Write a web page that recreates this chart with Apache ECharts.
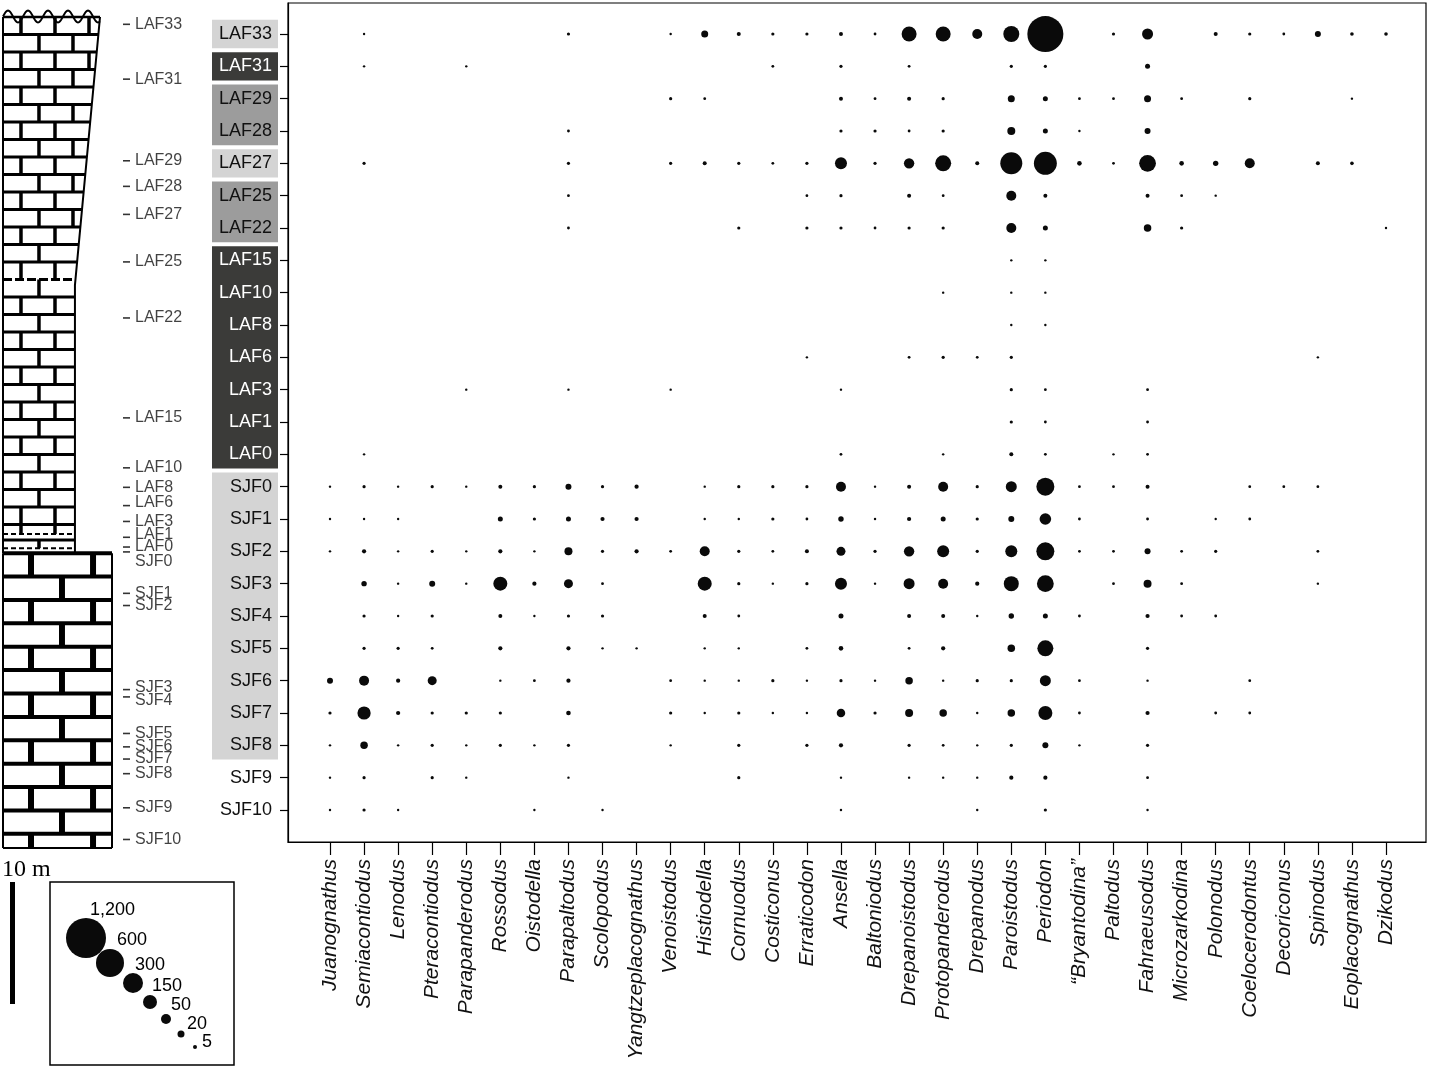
<!DOCTYPE html>
<html>
<head>
<meta charset="utf-8">
<script src="https://cdn.jsdelivr.net/npm/echarts@6/dist/echarts.min.js"></script>
<style>
  html, body { margin: 0; padding: 0; background: #fff; }
  #main { width: 1430px; height: 1068px; }
</style>
</head>
<body>
<div id="main"></div>
<script>
// conodont genera (x) and samples (y, top to bottom)
var genera = ['Juanognathus', 'Semiacontiodus', 'Lenodus', 'Pteracontiodus', 'Parapanderodus',
  'Rossodus', 'Oistodella', 'Parapaltodus', 'Scolopodus', 'Yangtzeplacognathus', 'Venoistodus',
  'Histiodella', 'Cornuodus', 'Costiconus', 'Erraticodon', 'Ansella', 'Baltoniodus',
  'Drepanoistodus', 'Protopanderodus', 'Drepanodus', 'Paroistodus', 'Periodon', '\u201cBryantodina\u201d',
  'Paltodus', 'Fahraeusodus', 'Microzarkodina', 'Polonodus', 'Coelocerodontus', 'Decoriconus',
  'Spinodus', 'Eoplacognathus', 'Dzikodus'];

var samples = ['LAF33', 'LAF31', 'LAF29', 'LAF28', 'LAF27', 'LAF25', 'LAF22', 'LAF15', 'LAF10',
  'LAF8', 'LAF6', 'LAF3', 'LAF1', 'LAF0', 'SJF0', 'SJF1', 'SJF2', 'SJF3', 'SJF4', 'SJF5', 'SJF6',
  'SJF7', 'SJF8', 'SJF9', 'SJF10'];

// height of each sample in the section (m)
var sampleHeights = [67.6, 63.1, 56.4, 54.3, 52.0, 48.1, 43.5, 35.3, 31.2, 29.6, 28.1, 26.8, 25.5,
  24.7, 24.3, 20.9, 19.9, 13.0, 12.4, 9.4, 8.3, 7.3, 6.1, 3.3, 0.7];

// sample groups shaded behind the labels: [first, last, shade]
var sampleGroups = [[0, 0, 0], [1, 1, 2], [2, 3, 1], [4, 4, 0], [5, 6, 1], [7, 13, 2], [14, 22, 0]];

// specimen counts, one row per sample, one column per genus
var counts = [
  [0, 1, 0, 0, 0, 0, 0, 3,   0, 0, 1, 20, 5, 3, 3, 5,   2, 175, 175, 50, 200, 1000, 0, 3,   75, 0, 5, 3, 2, 15, 4, 4],
  [0, 1, 0, 0, 1, 0, 0, 0,   0, 0, 0, 0, 0, 2, 0, 3,    0, 2, 0, 0, 3, 3, 0, 0,             10, 0, 0, 0, 0, 0, 0, 0],
  [0, 0, 0, 0, 0, 0, 0, 0,   0, 0, 3, 2, 0, 0, 0, 5,    2, 5, 3, 0, 20, 10, 2, 2,           20, 2, 0, 3, 0, 0, 1, 0],
  [0, 0, 0, 0, 0, 0, 0, 2,   0, 0, 0, 0, 0, 0, 0, 3,    3, 2, 3, 0, 30, 10, 1, 0,           15, 0, 0, 0, 0, 0, 0, 0],
  [0, 3, 0, 0, 0, 0, 0, 3,   0, 0, 3, 5, 3, 2, 3, 100,  3, 60, 200, 5, 375, 410, 8, 2,      220, 8, 12, 50, 0, 5, 4, 0],
  [0, 0, 0, 0, 0, 0, 0, 2,   0, 0, 0, 0, 0, 0, 2, 3,    0, 5, 2, 0, 50, 5, 0, 0,            5, 2, 1, 0, 0, 0, 0, 0],
  [0, 0, 0, 0, 0, 0, 0, 2,   0, 0, 0, 0, 3, 0, 3, 3,    2, 3, 3, 0, 50, 10, 0, 0,           25, 3, 0, 0, 0, 0, 0, 1],
  [0, 0, 0, 0, 0, 0, 0, 0,   0, 0, 0, 0, 0, 0, 0, 0,    0, 0, 0, 0, 1, 1, 0, 0,             0, 0, 0, 0, 0, 0, 0, 0],
  [0, 0, 0, 0, 0, 0, 0, 0,   0, 0, 0, 0, 0, 0, 0, 0,    0, 0, 1, 0, 1, 1, 0, 0,             0, 0, 0, 0, 0, 0, 0, 0],
  [0, 0, 0, 0, 0, 0, 0, 0,   0, 0, 0, 0, 0, 0, 0, 0,    0, 0, 0, 0, 1, 1, 0, 0,             0, 0, 0, 0, 0, 0, 0, 0],
  [0, 0, 0, 0, 0, 0, 0, 0,   0, 0, 0, 0, 0, 0, 1, 0,    0, 2, 3, 2, 3, 0, 0, 0,             0, 0, 0, 0, 0, 1, 0, 0],
  [0, 0, 0, 0, 1, 0, 0, 1,   0, 0, 1, 0, 0, 0, 0, 1,    0, 0, 0, 0, 3, 2, 0, 0,             2, 0, 0, 0, 0, 0, 0, 0],
  [0, 0, 0, 0, 0, 0, 0, 0,   0, 0, 0, 0, 0, 0, 0, 0,    0, 0, 0, 0, 3, 2, 0, 0,             2, 0, 0, 0, 0, 0, 0, 0],
  [0, 1, 0, 0, 0, 0, 0, 0,   0, 0, 0, 0, 0, 0, 0, 2,    0, 0, 1, 0, 5, 2, 0, 1,             2, 0, 0, 0, 0, 0, 0, 0],
  [1, 3, 1, 3, 1, 5, 3, 15,  3, 6, 0, 1, 3, 3, 3, 50,   1, 5, 50, 3, 75, 250, 2, 2,         5, 0, 0, 2, 2, 2, 0, 0],
  [1, 1, 1, 0, 0, 10, 3, 10, 6, 6, 0, 1, 1, 3, 2, 12,   1, 6, 10, 3, 15, 90, 2, 0,          2, 0, 1, 2, 0, 0, 0, 0],
  [1, 6, 1, 3, 1, 6, 1, 30,  3, 6, 2, 50, 3, 2, 5, 40,  3, 60, 100, 3, 100, 250, 2, 2,      15, 2, 3, 0, 0, 2, 0, 0],
  [0, 12, 1, 15, 1, 150, 6, 40, 2, 0, 0, 150, 3, 1, 3, 100, 1, 75, 50, 6, 175, 220, 0, 2,   30, 2, 0, 0, 0, 1, 0, 0],
  [0, 3, 1, 3, 0, 5, 1, 3,   3, 0, 0, 5, 2, 0, 0, 10,   0, 5, 5, 1, 12, 10, 2, 0,           6, 2, 2, 0, 0, 0, 0, 0],
  [0, 3, 3, 2, 0, 6, 0, 6,   1, 1, 0, 1, 1, 0, 2, 8,    0, 2, 6, 0, 25, 200, 0, 0,          3, 0, 0, 0, 0, 0, 0, 0],
  [15, 50, 6, 40, 0, 1, 2, 6, 0, 0, 2, 1, 1, 3, 1, 3,   1, 25, 1, 3, 3, 75, 2, 0,           1, 0, 0, 2, 0, 0, 0, 0],
  [3, 130, 6, 3, 3, 3, 0, 8, 0, 0, 3, 1, 3, 1, 1, 35,   3, 30, 25, 1, 25, 150, 2, 0,        6, 0, 2, 2, 0, 0, 0, 0],
  [1, 25, 1, 3, 1, 3, 1, 3,  0, 0, 1, 0, 3, 0, 3, 6,    0, 3, 2, 1, 3, 15, 1, 0,            3, 0, 0, 0, 0, 0, 0, 0],
  [1, 3, 0, 3, 1, 0, 0, 1,   0, 0, 0, 0, 3, 0, 0, 1,    0, 1, 1, 1, 6, 6, 0, 0,             2, 0, 0, 0, 0, 0, 0, 0],
  [1, 3, 1, 0, 0, 0, 1, 0,   1, 0, 0, 0, 0, 0, 0, 1,    0, 0, 0, 1, 0, 3, 0, 0,             1, 0, 0, 0, 0, 0, 0, 0]
];

var legendValues = [1200, 600, 300, 150, 50, 20, 5];
var legendTexts = ['1,200', '600', '300', '150', '50', '20', '5'];

// bubble diameter scale (px), matched to the key
var sizeKeys = [1, 5, 20, 50, 150, 300, 600, 1200];
var sizeDiam = [2.4, 4, 7, 10, 14, 20, 28, 40];
function sizeFor(v) {
  if (v <= sizeKeys[0]) return sizeDiam[0];
  for (var i = 1; i < sizeKeys.length; i++) {
    if (v <= sizeKeys[i]) {
      var t = (v - sizeKeys[i - 1]) / (sizeKeys[i] - sizeKeys[i - 1]);
      return sizeDiam[i - 1] + t * (sizeDiam[i] - sizeDiam[i - 1]);
    }
  }
  return sizeDiam[sizeDiam.length - 1];
}

var bubbles = [];
counts.forEach(function (row, r) {
  row.forEach(function (v, c) {
    if (v > 0) bubbles.push([c, r, v]);
  });
});

var shadeColors = ['#d4d4d4', '#9c9c9c', '#3b3b39'];
var darkRows = {};
sampleGroups.forEach(function (g) {
  if (g[2] === 2) for (var i = g[0]; i <= g[1]; i++) darkRows[i] = true;
});

var labelNudge = { LAF6: -3, LAF1: -3, SJF0: 10, SJF3: -2, SJF4: 4 };
var columnMarks = samples.map(function (s, i) {
  return { name: s, value: [1.133, sampleHeights[i]], label: { offset: [0, labelNudge[s] || 0] } };
});

var font = 'Liberation Sans, Arial, sans-serif';

// lithology column drawn in section metres
function renderColumn(params, api) {
  var kids = [];
  function P(fx, m) { return api.coord([fx, m]); }
  function seg(a, b, w, dash) {
    var st = { stroke: '#000', lineWidth: w };
    if (dash) st.lineDash = dash;
    kids.push({ type: 'line', shape: { x1: a[0], y1: a[1], x2: b[0], y2: b[1] }, style: st });
  }
  var lowerTop = 24.2, kink = 46.2, top = 68.2;
  function edge(m) {
    return m <= kink ? 0.66 : 0.66 + (m - kink) / (top - kink) * (0.89 - 0.66);
  }
  // lower thick-bedded unit
  var bedL = 1.92;
  for (var k = 0; lowerTop - k * bedL > 0; k++) {
    var mt = lowerTop - k * bedL, mb = Math.max(0, mt - bedL);
    seg(P(0, mt), P(1, mt), 4);
    var jl = k % 2 === 0 ? [0.257, 0.826] : [0.541];
    jl.forEach(function (f) { seg(P(f, mt), P(f, mb), 6); });
  }
  seg(P(0, 0), P(0, lowerTop), 2);
  seg(P(1, 0), P(1, lowerTop), 2);
  seg(P(0, 0), P(1, 0), 2);
  // upper thin-bedded unit
  var bedU = 1.436, jA = [0.33, 0.642], jB = [0.165, 0.477, 0.789];
  for (var j = 0; j < 30; j++) {
    var m1 = top - j * bedU, m0 = m1 - bedU;
    if (m1 < 26.3) break;
    seg(P(0, m1), P(edge(m1), m1), j === 0 ? 2.5 : 3, j === 15 ? [9, 3] : null);
    if (m0 > 26.3) {
      var js = j % 2 === 0 ? jB : jA;
      js.forEach(function (f) { if (f < edge(m0) - 0.04) seg(P(f, m1), P(f, m0), 3.5); });
    }
  }
  seg(P(0, 25.27), P(0.66, 25.27), 3);
  seg(P(0, 25.76), P(0.66, 25.76), 2, [5, 3]);
  seg(P(0, 24.61), P(0.66, 24.61), 2, [5, 3]);
  jB.forEach(function (f) { if (f < 0.62) seg(P(f, 26.56), P(f, 25.76), 3.5); });
  jA.forEach(function (f) { if (f < 0.62) seg(P(f, 25.27), P(f, 24.61), 3.5); });
  seg(P(0, lowerTop), P(0, top), 2);
  kids.push({
    type: 'polyline',
    shape: { points: [P(0.66, lowerTop), P(0.66, kink), P(0.89, top)] },
    style: { stroke: '#000', lineWidth: 2, fill: null }
  });
  // erosive top
  var a = P(0, top), b = P(0.89, top), pts = [];
  for (var x = a[0]; x <= b[0]; x += 1) {
    pts.push([x, a[1] - 0.5 - 6 * Math.cos(2 * Math.PI * (x - a[0] - 5) / 20)]);
  }
  kids.push({ type: 'polyline', shape: { points: pts }, style: { stroke: '#000', lineWidth: 2, fill: null } });
  return { type: 'group', children: kids };
}

// shaded boxes behind sample labels
function renderGroups(params, api) {
  var s = api.value(0), e = api.value(1), shade = api.value(2);
  var step = Math.abs(api.size([0, 1])[1]);
  var cs = params.coordSys;
  var y0 = api.coord([0, s])[1] - step / 2 + 2;
  var y1 = api.coord([0, e])[1] + step / 2 - 2;
  return {
    type: 'rect',
    shape: { x: cs.x - 76, y: y0, width: 66, height: y1 - y0 },
    style: { fill: shadeColors[shade] }
  };
}

// size key
var keyCenters = [[86, 938], [110, 963], [133, 983], [150, 1002], [166, 1019], [181, 1034], [195, 1047]];
var keyLabelPos = [[90, 910], [117, 940], [135, 965], [152, 986], [171, 1005], [187, 1024], [202, 1042]];
var keyElements = [
  { type: 'rect', shape: { x: 50, y: 882, width: 184, height: 183 }, style: { fill: null, stroke: '#000', lineWidth: 1.5 } },
  { type: 'rect', shape: { x: 10, y: 882, width: 5, height: 122 }, style: { fill: '#000' } },
  { type: 'text', x: 2, y: 870, style: { text: '10 m', fill: '#000', font: '24px "Liberation Serif", "Times New Roman", serif', textVerticalAlign: 'middle' } }
];
legendValues.forEach(function (v, i) {
  keyElements.push({ type: 'circle', shape: { cx: keyCenters[i][0], cy: keyCenters[i][1], r: sizeFor(v) / 2 }, style: { fill: '#0a0a0a' } });
  keyElements.push({ type: 'text', x: keyLabelPos[i][0], y: keyLabelPos[i][1], style: { text: legendTexts[i], fill: '#000', font: '18px ' + font, textVerticalAlign: 'middle' } });
});

var chart = echarts.init(document.getElementById('main'), null, { renderer: 'canvas' });

var option = {
  backgroundColor: '#fff',
  animation: false,
  textStyle: { fontFamily: font },
  grid: [
    { left: 288, top: 3, width: 1138, height: 839, show: true, borderColor: '#000', borderWidth: 1.2 },
    { left: 3, top: 17, width: 109, height: 831 }
  ],
  xAxis: [{
    type: 'value', gridIndex: 0, min: -1.233, max: 32.174,
    splitLine: { show: false },
    axisLine: { onZero: false, lineStyle: { color: '#000', width: 1.2 } },
    axisTick: { customValues: genera.map(function (g, i) { return i; }), length: 13, lineStyle: { color: '#000', width: 1.2 } },
    axisLabel: {
      customValues: genera.map(function (g, i) { return i; }),
      formatter: function (v) { return genera[Math.round(v)]; },
      rotate: 90, margin: 17, fontSize: 21, fontStyle: 'italic', color: '#111'
    }
  }, {
    type: 'value', gridIndex: 1, min: 0, max: 1, show: false
  }],
  yAxis: [{
    type: 'value', gridIndex: 0, inverse: true, min: -0.959, max: 24.99, z: 5,
    splitLine: { show: false },
    axisLine: { onZero: false, lineStyle: { color: '#000', width: 1.2 } },
    axisTick: { customValues: samples.map(function (s, i) { return i; }), length: 8, lineStyle: { color: '#000', width: 1.2 } },
    axisLabel: {
      customValues: samples.map(function (s, i) { return i; }),
      margin: 16,
      formatter: function (v) {
        var i = Math.round(v);
        return (darkRows[i] ? '{w|' : '{k|') + samples[i] + '}';
      },
      rich: {
        w: { color: '#fff', fontSize: 18, fontFamily: font },
        k: { color: '#111', fontSize: 18, fontFamily: font }
      }
    }
  }, {
    type: 'value', gridIndex: 1, min: 0, max: 68.2, show: false
  }],
  series: [{
    type: 'custom', xAxisIndex: 0, yAxisIndex: 0, z: 1, silent: true, clip: false,
    renderItem: renderGroups,
    data: sampleGroups
  }, {
    type: 'scatter', xAxisIndex: 0, yAxisIndex: 0, z: 2,
    symbol: 'circle',
    symbolSize: function (val) { return sizeFor(val[2]); },
    itemStyle: { color: '#0a0a0a', opacity: 1 },
    data: bubbles
  }, {
    type: 'custom', xAxisIndex: 1, yAxisIndex: 1, silent: true, clip: false,
    renderItem: renderColumn,
    data: [[0, 0]]
  }, {
    type: 'scatter', xAxisIndex: 1, yAxisIndex: 1, clip: false, silent: true,
    symbol: 'rect', symbolSize: [7, 1.6],
    itemStyle: { color: '#000' },
    label: { show: true, position: 'right', distance: 5, formatter: '{b}', fontSize: 16, color: '#111', fontFamily: font },
    data: columnMarks
  }],
  graphic: { elements: keyElements }
};

chart.setOption(option);
</script>
</body>
</html>
